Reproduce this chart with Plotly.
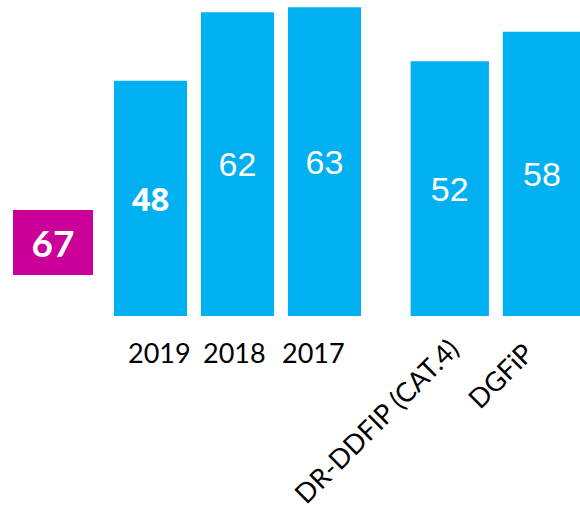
import plotly.graph_objects as go

# Scores by year and comparison groups
categories = ["2019", "2018", "2017", "DR-DDFIP (CAT.4)", "DGFiP"]
values = [48, 62, 63, 52, 58]
positions = [1, 2, 3, 4.44, 5.5]
bar_widths = [0.84, 0.84, 0.84, 0.9, 0.9]
bold_flags = [True, False, False, False, False]
highlight_value = 67

# category label styling: angle and small nudges (px)
label_angles = [0, 0, 0, -45, -45]
label_xshift = [9, -3, -11, 18, 0]
label_yshift = [-36, -36, -36, -13, -17]

BLUE = "#00B0F0"
MAGENTA = "#CC0099"

texts = [f"<b>{v}</b>" if b else f"{v}" for v, b in zip(values, bold_flags)]
text_fonts = ["Open Sans" if b else "Liberation Sans" for b in bold_flags]
text_sizes = [33 if b else 34 for b in bold_flags]

fig = go.Figure(
    go.Bar(
        x=positions,
        y=values,
        width=bar_widths,
        marker=dict(color=BLUE, line=dict(width=0)),
        text=texts,
        textposition="inside",
        insidetextanchor="middle",
        textangle=0,
        constraintext="none",
        textfont=dict(color="white", family=text_fonts, size=text_sizes),
        hoverinfo="skip",
    )
)

annotations = []
for pos, cat, ang, dx, dy in zip(positions, categories, label_angles,
                                 label_xshift, label_yshift):
    if ang == 0:
        annotations.append(dict(
            x=pos, xref="x", y=0, yref="paper", yshift=dy,
            xshift=dx, xanchor="center", yanchor="middle",
            text=cat, showarrow=False,
            font=dict(family="Lato", size=27, color="black"),
        ))
    else:
        annotations.append(dict(
            x=pos, xref="x", y=0, yref="paper", yshift=dy,
            xshift=dx, xanchor="right", yanchor="top",
            text=cat, textangle=ang, showarrow=False,
            font=dict(family="Lato", size=27, color="black"),
        ))

# highlighted score badge
annotations.append(dict(
    x=0.0914, xref="paper", y=0.2326, yref="paper",
    xanchor="center", yanchor="middle",
    text=f"<b>{highlight_value}</b>", showarrow=False,
    width=80, height=65, bgcolor=MAGENTA, borderpad=0, borderwidth=0,
    font=dict(family="Lato", size=37, color="white"),
))

fig.update_layout(
    width=580, height=506,
    margin=dict(l=0, r=0, t=0, b=190),
    paper_bgcolor="white", plot_bgcolor="white",
    showlegend=False,
    xaxis=dict(range=[-0.73, 5.937], visible=False, fixedrange=True),
    yaxis=dict(range=[0, 64.5], visible=False, fixedrange=True),
    annotations=annotations,
)

fig.write_html("out.html")
